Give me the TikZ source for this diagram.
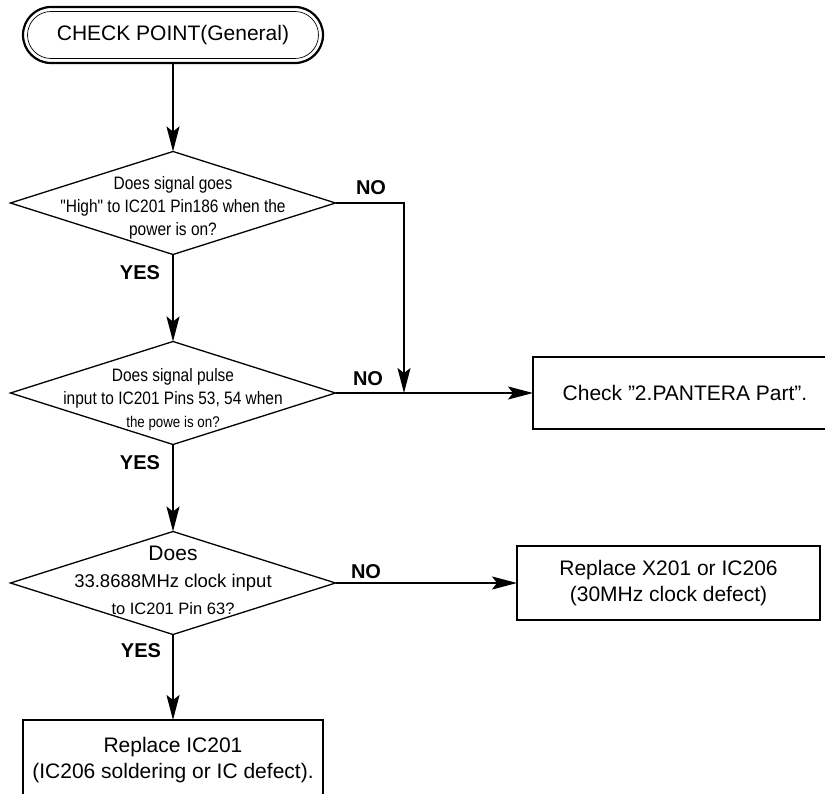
\documentclass[tikz,border=0pt]{standalone}
\usepackage{fontspec}
\setmainfont{Liberation Sans}
\newfontfamily\condfont[FakeStretch=0.86]{Liberation Sans}
\usetikzlibrary{shapes.geometric,arrows.meta}
\newcommand{\dq}{\symbol{34}}
\begin{document}
\begin{tikzpicture}[x=1pt,y=-1pt,
  conn/.style={line width=1.8pt,-{Stealth[length=25pt,width=13pt,inset=5pt]}},
  dia/.style={diamond,draw,line width=1.3pt,minimum width=325pt,minimum height=103pt,inner sep=0pt,outer sep=0pt},
  box/.style={rectangle,draw,line width=1.2pt,inner sep=0pt,outer sep=0pt,align=center,font=\fontsize{21}{26}\selectfont},
  lbl/.style={font=\fontsize{20}{24}\selectfont\bfseries,inner sep=0pt},
  dtxt/.style={align=center,inner sep=0pt,font=\condfont\fontsize{18}{23}\selectfont},
  dtxtn/.style={align=center,inner sep=0pt,font=\fontsize{18.5}{27}\selectfont}]
\useasboundingbox (0,0) rectangle (825,794);
\clip (0,0) rectangle (825,794);

% terminal
\node[rectangle,rounded corners=28pt,draw,line width=2.2pt,minimum width=300pt,minimum height=56pt,
      inner sep=0pt,outer sep=0pt,font=\fontsize{21}{25}\selectfont] (start) at (173,35) {CHECK POINT(General)};
\draw[line width=0.7pt,rounded corners=23.5pt]
  ([shift={(4.5pt,4.5pt)}]start.south west) rectangle ([shift={(-4.5pt,-4.5pt)}]start.north east);

% decisions
\node[dia] (d1) at (173,203) {};
\node[dtxt] (t1) at (173,208) {Does signal goes\\\dq High\dq{} to IC201 Pin186 when the\\power is on?};

\node[dia] (d2) at (173,393) {};
\node[dtxt] (t2) at (173,400) {Does signal pulse\\input to IC201 Pins 53, 54 when\\{\fontsize{15.5}{23}\selectfont the powe is on?}};

\node[dia] (d3) at (173,583) {};
\node[dtxtn] (t3) at (173,580) {{\fontsize{21}{27}\selectfont Does}\\33.8688MHz clock input\\{\fontsize{16.5}{27}\selectfont to IC201 Pin 63?}};

% labels
\node[lbl] (no1) at (371,188) {NO};
\node[lbl] (no2) at (368,379) {NO};
\node[lbl] (no3) at (366,572) {NO};
\node[lbl] (yes1) at (140,273) {YES};
\node[lbl] (yes2) at (140,463) {YES};
\node[lbl] (yes3) at (141,651) {YES};

% result boxes
\node[box,minimum width=304pt,minimum height=72pt] (b1) at (685,393) {Check \dq 2.PANTERA Part\dq .};
\node[box,minimum width=303pt,minimum height=74pt] (b2) at (668.5,583) {Replace X201 or IC206\\(30MHz clock defect)};
\node[box,minimum width=300pt,minimum height=80pt] (b3) at (173,760) {Replace IC201\\(IC206 soldering or IC defect).};

% connectors
\coordinate (j) at (404,393);
\draw[conn] (start) -- (d1);
\draw[conn] (d1) -- (d2);
\draw[conn] (d2) -- (d3);
\draw[conn] (d3) -- (b3);
\draw[conn] (d1.east) -| (j);
\draw[conn] (d2.east) -- (b1.west);
\draw[conn] (d3.east) -- (b2.west);
\end{tikzpicture}
\end{document}
